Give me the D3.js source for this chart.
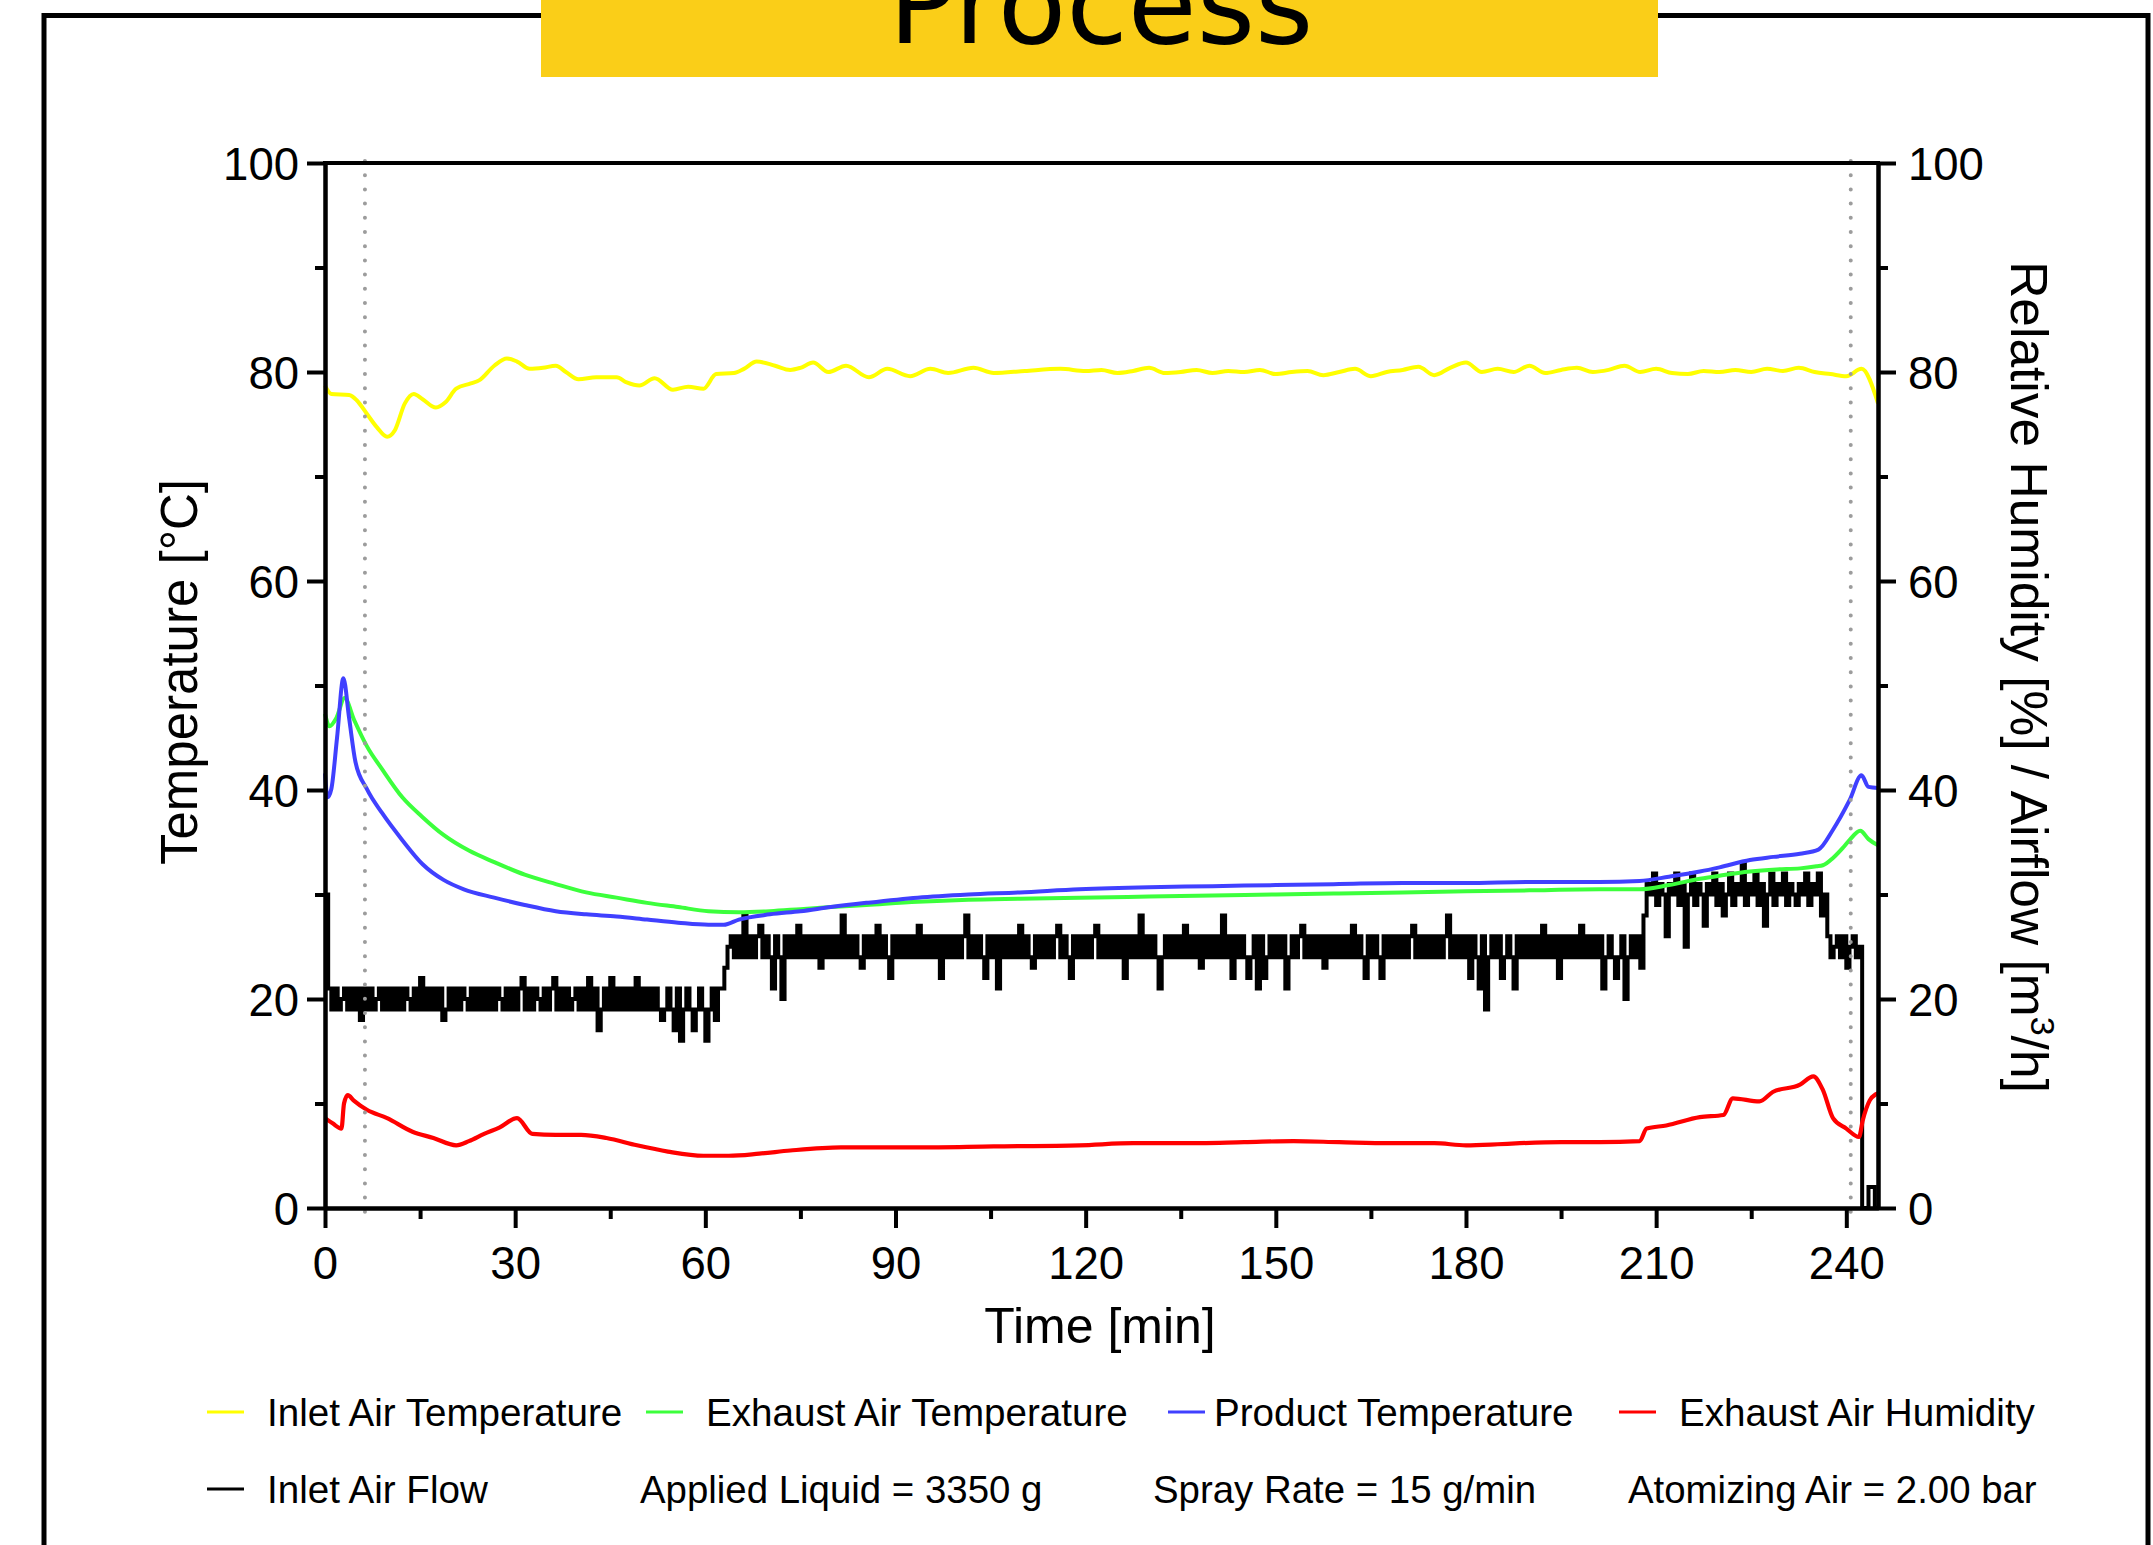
<!DOCTYPE html>
<html><head><meta charset="utf-8">
<script src="https://cdn.jsdelivr.net/npm/d3@7"></script>
<style>
body{margin:0;background:#fff;}
svg{display:block;}
.axis text{font-family:"Liberation Sans",Arial,sans-serif;font-size:45.5px;fill:#000;}
.axis .domain,.axis .tick line{stroke:#000;stroke-width:4;}
.lbl{font-family:"Liberation Sans",Arial,sans-serif;fill:#000;}
</style></head><body>
<svg id="chart" width="2153" height="1545"></svg>
<script>
// ---------- DATA ----------
const titleText = "Process";
const xTicks = [0, 30, 60, 90, 120, 150, 180, 210, 240];
const xMinorTicks = [15, 45, 75, 105, 135, 165, 195, 225];
const yTicks = [0, 20, 40, 60, 80, 100];
const yMinorTicks = [10, 30, 50, 70, 90];
const markerTimes = [6.3, 240.7];

const seriesNames = ["Inlet Air Temperature", "Exhaust Air Temperature", "Product Temperature", "Exhaust Air Humidity", "Inlet Air Flow"];
const seriesColors = ["#ffff00", "#3cff3c", "#4040ff", "#ff0000", "#000000"];
const notes = ["Applied Liquid = 3350 g", "Spray Rate = 15 g/min", "Atomizing Air = 2.00 bar"];

// [time (min), value]
const inletTemp = [[0,78.7],[1,77.9],[3.8,77.8],[5,77.3],[6.6,76.0],[8.2,74.7],[9.8,73.8],[11,74.4],[12.6,77.0],[14,77.9],[15.4,77.4],[17.5,76.6],[19,77.1],[20.7,78.4],[23,78.9],[24.3,79.2],[26.7,80.6],[28.7,81.3],[30.3,81.0],[32.3,80.3],[34.4,80.4],[36.4,80.6],[38,80.0],[40,79.3],[42.8,79.5],[46,79.5],[47.6,79.0],[49.6,78.7],[52,79.4],[54.9,78.3],[57.3,78.6],[59.7,78.4],[61.7,79.8],[64.5,79.9],[66.1,80.3],[68.1,81.0],[71,80.6],[73.4,80.2],[75,80.4],[77,80.9],[79.4,80.0],[82.2,80.6],[85.8,79.5],[88.7,80.3],[92.3,79.6],[95.5,80.3],[98.3,79.9],[102.3,80.4],[105.5,79.9],[110.4,80.1],[116,80.3],[120,80.1],[122.5,80.2],[125,79.9],[127.5,80.1],[130,80.4],[132.5,79.9],[135,80.0],[137.5,80.2],[140,79.9],[142.5,80.1],[145,80.0],[147.5,80.2],[150,79.8],[152.5,80.0],[155,80.1],[157.5,79.7],[160,80.0],[162.5,80.3],[165,79.6],[167.5,80.0],[170,80.2],[172.5,80.5],[175,79.7],[177.5,80.4],[180,80.9],[182.5,80.0],[185,80.3],[187.5,80.0],[190,80.6],[192.5,79.9],[195,80.2],[197.5,80.4],[200,80.0],[202.5,80.2],[205,80.6],[207.5,80.0],[210,80.3],[212.5,79.9],[215,79.8],[217.5,80.1],[220,80.0],[222.5,80.2],[225,80.0],[227.5,80.3],[230,80.1],[232.5,80.4],[235,80.0],[237.5,79.8],[240,79.6],[242.4,80.3],[245,77.0]];

const exhaustTemp = [[0,47.3],[0.7,46.1],[1.8,46.9],[3.1,48.8],[4.6,46.7],[6.6,44.2],[9,42.0],[12.2,39.3],[15.4,37.4],[18.7,35.7],[22.7,34.2],[26.7,33.1],[31.5,31.9],[36.4,31.0],[41.2,30.2],[46,29.7],[50.8,29.2],[55.7,28.8],[60.5,28.4],[65.3,28.3],[70.2,28.4],[75,28.6],[79.8,28.8],[85.4,29.0],[93.5,29.3],[101.5,29.5],[109.6,29.6],[119,29.7],[130,29.8],[140,29.9],[150,30.0],[160,30.1],[170,30.2],[180,30.3],[190,30.4],[201,30.5],[207.4,30.5],[212,30.9],[216.9,31.5],[220,31.8],[224.8,32.2],[229,32.4],[232.7,32.5],[235.3,32.7],[236.3,32.8],[237.9,33.5],[239.5,34.5],[240.5,35.2],[242.2,36.1],[243.5,35.3],[245,34.7]];

const productTemp = [[0,41.6],[0.4,39.3],[1,40.1],[1.9,45.0],[2.9,50.7],[3.8,46.9],[4.8,42.7],[6.6,40.1],[9,37.8],[12.2,35.2],[15.4,32.9],[18.7,31.4],[21.9,30.5],[26.7,29.7],[31.5,29.0],[36.4,28.4],[41.2,28.1],[46,27.9],[50.8,27.6],[55.7,27.3],[60.5,27.1],[62.9,27.1],[65.3,27.6],[70.2,28.1],[75,28.4],[79.8,28.8],[85.4,29.2],[93.5,29.7],[101.5,30.0],[109.6,30.2],[119,30.5],[130,30.7],[140,30.8],[150,30.9],[160,31.0],[170,31.1],[180,31.1],[190,31.2],[201,31.2],[207.4,31.3],[212,31.7],[216.9,32.2],[220,32.6],[224.8,33.3],[228.5,33.6],[232.7,33.9],[235.6,34.3],[237.9,36.2],[240.5,39.0],[242.4,41.4],[243.5,40.3],[245,40.2]];

const exhaustHumidity = [[0,8.6],[1.2,8.1],[2.6,7.6],[3.0,10.0],[3.6,10.8],[4.5,10.3],[6.6,9.4],[9.8,8.6],[13.8,7.3],[17.1,6.7],[20.7,6.0],[22.7,6.4],[25.1,7.1],[27.5,7.7],[30.3,8.6],[32.7,7.1],[36.4,7.0],[40.4,7.0],[44.4,6.7],[49.2,6.0],[54.1,5.4],[59.7,5.0],[63.7,5.0],[68.5,5.2],[73.4,5.5],[81.4,5.8],[93.5,5.8],[105.5,5.9],[119,6.0],[127.5,6.2],[135,6.2],[145,6.3],[152.8,6.4],[160,6.3],[168,6.2],[175,6.2],[180,6.0],[185,6.1],[188.5,6.2],[195,6.3],[201.1,6.3],[207.4,6.4],[208.5,7.6],[211.6,7.9],[216.9,8.7],[220.6,8.9],[222.1,10.5],[226.3,10.2],[228.4,11.1],[232.7,11.8],[234.8,12.6],[236.3,11.3],[237.9,8.6],[240,7.6],[242,6.8],[242.6,8.4],[243.7,10.3],[244.7,10.9],[245,11.0]];

// Inlet air flow, sampled every 0.5 min from t = 0
const flowStep = 0.5;
const inletFlow = [
30,21,
19,21,19,20,21,19,21,19,
21,18,21,19,21,19,20,21,19,21,
19,21,19,21,19,21,20,19,21,19,
22,19,21,19,21,19,21,18,19,21,
19,21,19,21,20,19,21,19,21,19,
21,19,21,19,21,20,19,21,19,21,
19,21,22,19,21,19,21,20,19,21,
19,21,22,19,21,19,21,19,20,21,
19,21,19,22,19,21,17,19,21,19,
22,19,21,19,21,19,21,19,22,19,
21,19,21,19,21,19,18,19,21,19,
17,21,16,19,21,19,17,19,21,19,
16,19,21,18,21,
21,23,25,26,24,
26,24,28,24,26,24,26,27,24,26,
24,21,26,24,20,26,24,26,24,27,
24,26,24,26,24,26,23,26,24,26,
24,26,24,28,24,26,24,26,24,23,
26,24,26,24,27,24,26,24,22,26,
24,26,24,26,24,26,24,27,24,26,
24,26,24,26,22,26,24,26,24,26,
24,26,28,24,26,24,26,24,22,26,
24,26,21,26,24,26,24,26,24,27,
24,26,24,23,26,24,26,24,26,24,
26,27,24,26,24,22,26,24,26,24,
26,24,26,27,24,26,24,26,24,26,
24,26,22,26,24,26,24,28,24,26,
24,26,24,21,24,26,24,26,24,26,
24,27,24,26,24,26,23,26,24,26,
24,26,24,28,24,26,22,26,24,26,
24,22,24,26,21,26,22,24,26,24,
26,24,26,21,24,26,24,26,27,24,
26,24,26,24,26,23,26,24,26,24,
26,24,26,24,27,24,26,24,22,26,
24,26,24,22,26,24,26,24,26,24,
26,24,26,27,24,26,24,26,24,26,
24,26,24,26,28,24,26,24,26,24,
26,22,26,24,21,26,19,24,26,24,
26,22,24,26,24,21,26,24,26,24,
26,24,26,24,27,24,26,24,26,22,
26,24,26,24,26,24,27,24,26,24,
26,24,26,21,24,26,24,22,24,26,
20,24,26,24,26,23,
28,31,30,32,29,31,30,26,31,30,
32,29,31,25,30,32,29,31,30,27,
31,30,32,29,31,28,30,32,29,31,
30,33,29,31,30,32,29,31,27,30,
32,29,31,30,32,29,31,30,29,31,
30,32,29,31,30,32,28,30,
26,24,25,26,24,26,23,25,26,24,25,
0,0,2,2,0,0
];

// ---------- CHART ----------
const svg = d3.select("#chart");
const x = d3.scaleLinear().domain([0, 245]).range([325, 1878]);
const y = d3.scaleLinear().domain([0, 100]).range([1208, 163]);

// outer frame
svg.append("rect").attr("x", 44).attr("y", 15.5).attr("width", 2104).attr("height", 1600)
  .attr("fill", "none").attr("stroke", "#000").attr("stroke-width", 5);

// title box
svg.append("rect").attr("x", 541).attr("y", -10).attr("width", 1117).attr("height", 87).attr("fill", "#face18");
svg.append("text").attr("x", 1101).attr("y", 43).attr("text-anchor", "middle")
  .style("font-family", "'DejaVu Sans',Verdana,sans-serif").style("font-size", "112px").text(titleText);

// series
const flowData = inletFlow.map((v, i) => [i * flowStep, v]);
const lineSmooth = d3.line().x(d => x(d[0])).y(d => y(d[1])).curve(d3.curveMonotoneX);
const lineStep = d3.line().x(d => x(d[0])).y(d => y(d[1])).curve(d3.curveStepAfter);

svg.append("path").datum(flowData).attr("d", lineStep).attr("fill", "none")
  .attr("stroke", seriesColors[4]).attr("stroke-width", 4).attr("stroke-linejoin", "miter");
svg.append("path").datum(exhaustHumidity).attr("d", lineSmooth).attr("fill", "none")
  .attr("stroke", seriesColors[3]).attr("stroke-width", 4.2);
svg.append("path").datum(exhaustTemp).attr("d", lineSmooth).attr("fill", "none")
  .attr("stroke", seriesColors[1]).attr("stroke-width", 4);
svg.append("path").datum(productTemp).attr("d", lineSmooth).attr("fill", "none")
  .attr("stroke", seriesColors[2]).attr("stroke-width", 4);
svg.append("path").datum(inletTemp).attr("d", lineSmooth).attr("fill", "none")
  .attr("stroke", seriesColors[0]).attr("stroke-width", 4);

// dotted markers
svg.selectAll(".marker").data(markerTimes).enter().append("line")
  .attr("x1", d => x(d)).attr("x2", d => x(d)).attr("y1", y(100) - 2).attr("y2", y(0) + 4)
  .attr("stroke", "#9c9c9c").attr("stroke-width", 4).attr("stroke-linecap", "round")
  .attr("stroke-dasharray", "0 14.2");

// axes
svg.append("g").attr("class", "axis").attr("transform", "translate(325,0)")
  .call(d3.axisLeft(y).tickValues(yTicks).tickSize(18).tickSizeOuter(0).tickPadding(8).tickFormat(d3.format("d")));
svg.append("g").attr("class", "axis").attr("transform", "translate(325,0)")
  .call(d3.axisLeft(y).tickValues(yMinorTicks).tickSize(10).tickSizeOuter(0).tickFormat(""));
svg.append("g").attr("class", "axis").attr("transform", "translate(1878,0)")
  .call(d3.axisRight(y).tickValues(yTicks).tickSize(18).tickSizeOuter(0).tickPadding(12).tickFormat(d3.format("d")));
svg.append("g").attr("class", "axis").attr("transform", "translate(1878,0)")
  .call(d3.axisRight(y).tickValues(yMinorTicks).tickSize(10).tickSizeOuter(0).tickFormat(""));
svg.append("g").attr("class", "axis").attr("transform", "translate(0,1208)")
  .call(d3.axisBottom(x).tickValues(xTicks).tickSize(20).tickSizeOuter(0).tickPadding(19).tickFormat(d3.format("d")));
svg.append("g").attr("class", "axis").attr("transform", "translate(0,1208)")
  .call(d3.axisBottom(x).tickValues(xMinorTicks).tickSize(11).tickSizeOuter(0).tickFormat(""));
svg.selectAll(".axis .tick text").each(function () {
  const p = this.parentNode.parentNode.getAttribute("transform");
  d3.select(this).attr("dy", p === "translate(0,1208)" ? "0.71em" : "0.36em");
});
// top border
svg.append("line").attr("x1", 325).attr("x2", 1878).attr("y1", y(100)).attr("y2", y(100))
  .attr("stroke", "#000").attr("stroke-width", 4).attr("stroke-linecap", "square");

// axis titles
svg.append("text").attr("class", "lbl").attr("transform", "translate(197,672) rotate(-90)")
  .attr("text-anchor", "middle").style("font-size", "51px").text("Temperature [°C]");
const rt = svg.append("text").attr("class", "lbl").attr("transform", "translate(2011,677) rotate(90)")
  .attr("text-anchor", "middle").style("font-size", "51.5px");
rt.append("tspan").text("Relative Humidity [%] / Airflow [m");
rt.append("tspan").attr("dy", -20).style("font-size", "34px").text("3");
rt.append("tspan").attr("dy", 20).text("/h]");
svg.append("text").attr("class", "lbl").attr("x", 1100).attr("y", 1343)
  .attr("text-anchor", "middle").style("font-size", "50px").text("Time [min]");

// legend
const legendPos = [[207, 1412, 267, 1426], [646, 1412, 706, 1426], [1168, 1412, 1214, 1426], [1619, 1412, 1679, 1426], [207, 1489, 267, 1503]];
const lg = svg.append("g");
seriesNames.forEach((n, i) => {
  const p = legendPos[i];
  lg.append("line").attr("x1", p[0]).attr("x2", p[0] + 37).attr("y1", p[1]).attr("y2", p[1])
    .attr("stroke", seriesColors[i]).attr("stroke-width", 3);
  lg.append("text").attr("class", "lbl").attr("x", p[2]).attr("y", p[3]).style("font-size", "38.6px").text(n);
});
const notePos = [640, 1153, 1628];
notes.forEach((n, i) => {
  lg.append("text").attr("class", "lbl").attr("x", notePos[i]).attr("y", 1503).style("font-size", "38.4px").text(n);
});
</script></body></html>
